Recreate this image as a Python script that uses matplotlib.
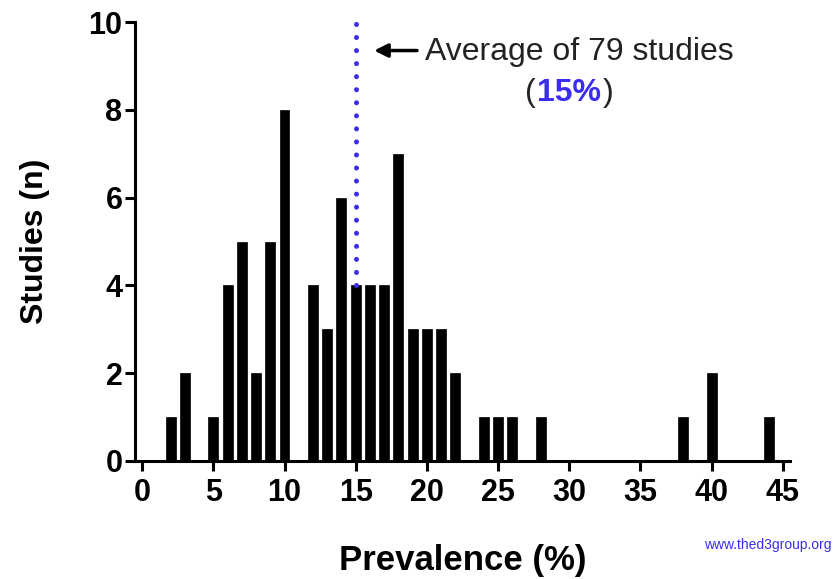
import matplotlib
matplotlib.use("Agg")
import matplotlib.pyplot as plt

plt.rcParams['font.family'] = ['Liberation Sans', 'DejaVu Sans']

# 各有病率(%)の研究数
prevalence = [2, 3, 5, 6, 7, 8, 9, 10, 12, 13, 14, 15, 16, 17, 18, 19, 20, 21, 22,
              24, 25, 26, 28, 38, 40, 44]
studies = [1, 2, 1, 4, 5, 2, 5, 8, 4, 3, 6, 4, 4, 4, 7, 3, 3, 3, 2,
           1, 1, 1, 1, 1, 2, 1]
average = 15
n_studies = 79
x_ticks = [0, 5, 10, 15, 20, 25, 30, 35, 40, 45]
y_ticks = [0, 2, 4, 6, 8, 10]

blue = '#3a2cf0'

fig = plt.figure(figsize=(8.37, 5.79), dpi=100)
ax = fig.add_axes([0.1613, 0.2038, 0.7825, 0.7582])

ax.bar(prevalence, studies, width=0.7, color='black', edgecolor='black', linewidth=0.5)

# 平均値の点線
avg_height = studies[prevalence.index(average)]
ax.plot([average, average], [avg_height, 10], color=blue, linewidth=3.6,
        linestyle=(0, (0.01, 2.6)), dash_capstyle='round', clip_on=False)

ax.annotate("", xy=(16.1, 9.35), xytext=(19.5, 9.35),
            arrowprops=dict(arrowstyle='-|>', lw=2.5, color='black', mutation_scale=20))
ax.text(19.9, 9.31, "Average of %d studies" % n_studies, fontsize=23,
        ha='left', va='center', color='#222222')
t15 = ax.text(30.0, 8.38, "%d%%" % average, fontsize=23, fontweight='bold',
              color=blue, ha='center', va='center')
ax.annotate("(", xy=(0, 0.5), xycoords=t15, xytext=(-1, 0), textcoords='offset points',
            ha='right', va='center', fontsize=23, color='#222222')
ax.annotate(")", xy=(1, 0.5), xycoords=t15, xytext=(1, 0), textcoords='offset points',
            ha='left', va='center', fontsize=23, color='#222222')

ax.set_xlim(-0.5, 45.5)
ax.set_ylim(0, 10)
ax.set_xticks(x_ticks)
ax.set_yticks(y_ticks)
ax.spines['top'].set_visible(False)
ax.spines['right'].set_visible(False)
for s in ['left', 'bottom']:
    ax.spines[s].set_linewidth(2.2)
ax.tick_params(width=2.2, length=7.5, labelsize=22, direction='out')
ax.tick_params(axis='y', pad=1.5)
ax.tick_params(axis='x', pad=5)
for lab in ax.get_xticklabels() + ax.get_yticklabels():
    lab.set_fontweight('bold')

ax.set_xlabel("Prevalence (%)", fontsize=25, fontweight='bold', labelpad=26)
ax.set_ylabel("Studies (n)", fontsize=23, fontweight='bold', labelpad=28)

fig.text(0.994, 0.058, "www.thed3group.org", fontsize=10, color=blue, ha='right', va='center')

fig.savefig("out.png", dpi=100)
